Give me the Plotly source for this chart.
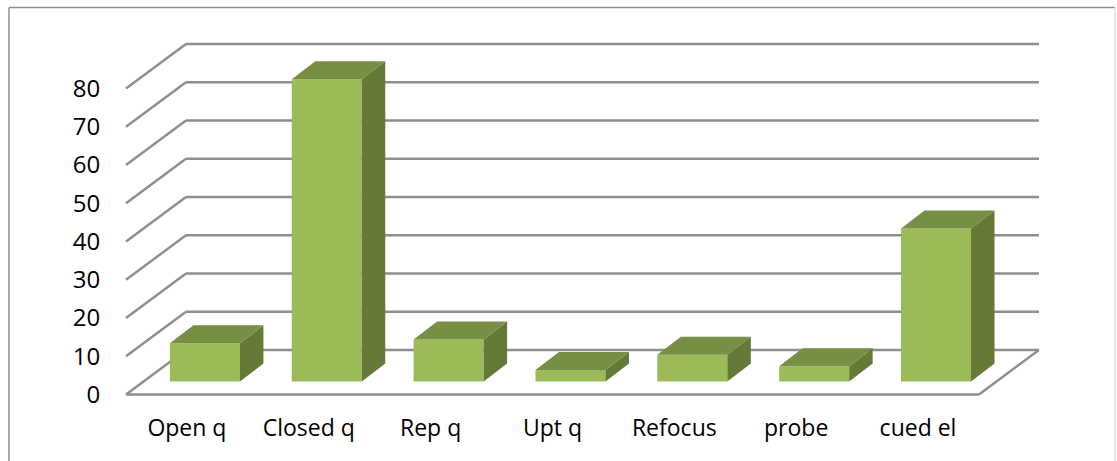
import plotly.graph_objects as go

categories = ["Open q", "Closed q", "Rep q", "Upt q", "Refocus", "probe", "cued el"]
values = [10, 79, 11, 3, 7, 4, 40]
y_ticks = [0, 10, 20, 30, 40, 50, 60, 70, 80]

W, H = 1117, 461
# scale: figure pixels per data unit, and where the axes' origin falls
PX_X, PX_Y = 121.85, 3.825
X0, Y0 = 126, 394.5
ux = lambda px: px / PX_X
uy = lambda px: px / PX_Y

WALL_DX, WALL_DY = ux(60), uy(44.5)
BAR_SHIFT_X, BAR_SHIFT_Y = ux(18), uy(13)
BAR_W = ux(70)
BAR_DX, BAR_DY = ux(23.5), uy(18)
LEFT = -0.5
RIGHT = len(categories) - 0.5

FRONT, TOP, SIDE = "#9BBB59", "#778F45", "#657A37"
GRID = "#8E8E8E"

xs = list(range(len(categories)))
cx = [x + BAR_SHIFT_X for x in xs]


def seg(x0, y0, x1, y1):
    return dict(type="line", xref="x", yref="y", x0=x0, y0=y0, x1=x1, y1=y1,
                layer="below", line=dict(color=GRID, width=2.4))


def frame(x0, y0, x1, y1, color, width):
    return dict(type="line", xref="paper", yref="paper",
                x0=x0 / W, x1=x1 / W, y0=1 - y0 / H, y1=1 - y1 / H, layer="below",
                line=dict(color=color, width=width))


shapes = [
    frame(9, 7.5, 1115, 7.5, "#8E8E8E", 1.5),
    frame(9, 7.5, 9, 461, "#8E8E8E", 1.5),
    frame(1115, 7.5, 1115, 461, "#DDDDDD", 1.5),
]
for level in y_ticks:
    shapes.append(seg(LEFT + WALL_DX, level + WALL_DY, RIGHT + WALL_DX, level + WALL_DY))
    shapes.append(seg(LEFT, level, LEFT + WALL_DX, level + WALL_DY))
shapes.append(seg(LEFT, 0, RIGHT, 0))
shapes.append(seg(RIGHT, 0, RIGHT + WALL_DX, WALL_DY))

side_x, side_y, top_x, top_y = [], [], [], []
for c, v in zip(cx, values):
    l, r = c - BAR_W / 2, c + BAR_W / 2
    b, t = BAR_SHIFT_Y, BAR_SHIFT_Y + v
    side_x += [r, r + BAR_DX, r + BAR_DX, r, r, None]
    side_y += [b, b + BAR_DY, t + BAR_DY, t, b, None]
    top_x += [l, r, r + BAR_DX, l + BAR_DX, l, None]
    top_y += [t, t, t + BAR_DY, t + BAR_DY, t, None]

fig = go.Figure()
fig.add_bar(x=cx, y=values, base=[BAR_SHIFT_Y] * len(values), width=BAR_W,
            marker=dict(color=FRONT, line=dict(width=0)), hoverinfo="skip")
for px_, py_, col in [(side_x, side_y, SIDE), (top_x, top_y, TOP)]:
    fig.add_scatter(x=px_, y=py_, mode="lines", fill="toself", fillcolor=col,
                    line=dict(width=0, color=col), hoverinfo="skip")

font = "Open Sans, Noto Sans, sans-serif"
fig.update_layout(
    width=W, height=H, autosize=False,
    margin=dict(l=0, r=0, t=0, b=0),
    paper_bgcolor="white", plot_bgcolor="white",
    showlegend=False, shapes=shapes,
    xaxis=dict(
        domain=[0, 1], range=[LEFT - ux(X0), LEFT + ux(W - X0)],
        anchor="free", position=(H - Y0) / H, side="bottom",
        tickmode="array", tickvals=xs, ticktext=categories,
        showgrid=False, zeroline=False, showline=False,
        ticks="outside", ticklen=13, tickcolor="rgba(0,0,0,0)",
        tickfont=dict(family=font, size=23, color="#000000"),
    ),
    yaxis=dict(
        domain=[0, 1], range=[-uy(H - Y0), uy(Y0)],
        anchor="free", position=X0 / W, side="left",
        tickmode="array", tickvals=y_ticks,
        showgrid=False, zeroline=False, showline=False,
        ticks="outside", ticklen=21, tickcolor="rgba(0,0,0,0)",
        tickfont=dict(family=font, size=24, color="#000000"),
    ),
)
fig.write_html("out.html", config=dict(displayModeBar=False),
               post_script="document.body.style.margin='0';document.body.style.overflow='hidden';")
